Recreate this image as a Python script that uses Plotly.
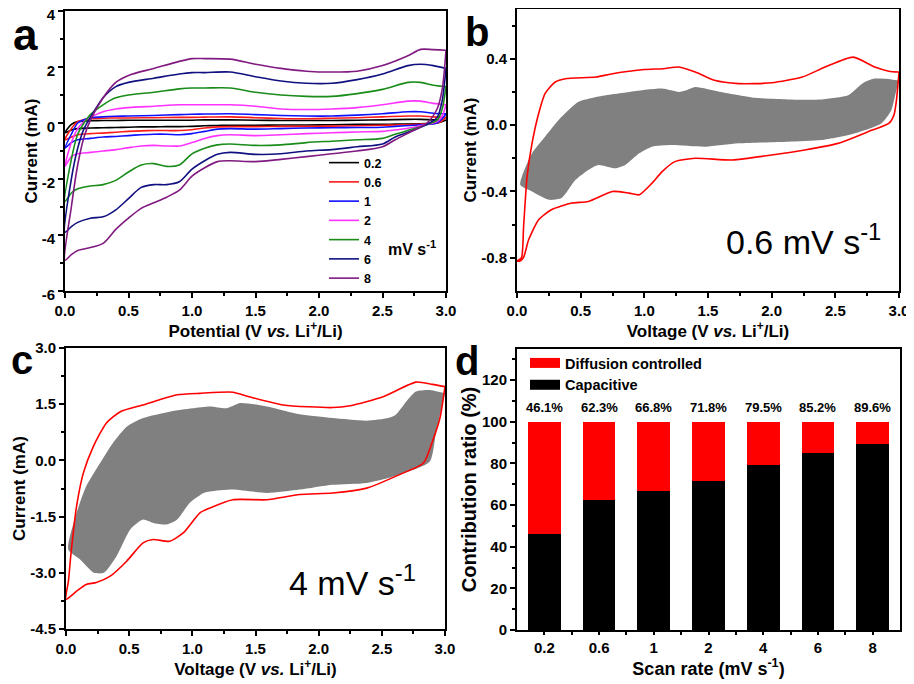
import plotly.graph_objects as go

FONT = "Liberation Sans"

# ---------------- Panel a : CV curves at different scan rates ----------------
a_rates = ["0.2", "0.6", "1", "2", "4", "6", "8"]
a_colors = ["#000000", "#ff1a1a", "#1010ff", "#ff33ff", "#1a8c1a", "#101080", "#801a80"]

a_up_v = [0, 0.05, 0.1, 0.15, 0.2, 0.3, 0.4, 0.5, 0.7, 0.9, 1.0, 1.1, 1.3, 1.5, 1.7, 1.9, 2.1, 2.3, 2.5, 2.7, 2.8, 2.9, 3.0]
a_dn_v = [3.0, 2.97, 2.93, 2.85, 2.75, 2.6, 2.5, 2.3, 2.1, 1.9, 1.7, 1.5, 1.3, 1.2, 1.1, 1.0, 0.9, 0.8, 0.7, 0.6, 0.5, 0.4, 0.3, 0.2, 0.1, 0.05, 0.0]

a_up = {
    "0.2": [-0.35, -0.05, 0.05, 0.07, 0.08, 0.09, 0.09, 0.1, 0.1, 0.1, 0.1, 0.11, 0.11, 0.1, 0.09, 0.09, 0.09, 0.1, 0.11, 0.13, 0.13, 0.11, 0.1],
    "0.6": [-0.6, -0.2, 0.05, 0.12, 0.15, 0.17, 0.18, 0.18, 0.19, 0.2, 0.2, 0.21, 0.22, 0.19, 0.16, 0.15, 0.17, 0.19, 0.22, 0.25, 0.25, 0.22, 0.2],
    "1": [-0.9, -0.4, 0.0, 0.12, 0.18, 0.22, 0.24, 0.25, 0.27, 0.3, 0.31, 0.32, 0.33, 0.3, 0.27, 0.25, 0.25, 0.28, 0.33, 0.4, 0.4, 0.35, 0.33],
    "2": [-1.55, -0.7, -0.2, 0.05, 0.2, 0.4, 0.5, 0.55, 0.6, 0.65, 0.65, 0.65, 0.65, 0.6, 0.5, 0.48, 0.5, 0.55, 0.65, 0.78, 0.78, 0.7, 0.65],
    "4": [-2.8, -1.3, -0.4, 0.0, 0.3, 0.65, 0.9, 1.0, 1.1, 1.22, 1.25, 1.25, 1.25, 1.1, 1.0, 0.95, 0.95, 1.05, 1.2, 1.45, 1.45, 1.35, 1.3],
    "6": [-3.9, -2.0, -0.9, -0.2, 0.2, 0.9, 1.3, 1.45, 1.6, 1.75, 1.8, 1.8, 1.82, 1.65, 1.5, 1.42, 1.42, 1.55, 1.75, 2.05, 2.1, 2.05, 1.95],
    "8": [-4.9, -3.0, -1.5, -0.5, 0.1, 0.9, 1.45, 1.7, 1.95, 2.2, 2.3, 2.3, 2.28, 2.1, 1.95, 1.85, 1.82, 1.85, 2.05, 2.4, 2.63, 2.62, 2.6],
}
a_dn = {
    "0.2": [0.1, 0.05, 0.0, -0.02, -0.03, -0.04, -0.05, -0.05, -0.06, -0.07, -0.07, -0.08, -0.08, -0.09, -0.1, -0.12, -0.13, -0.13, -0.14, -0.14, -0.15, -0.16, -0.17, -0.18, -0.2, -0.25, -0.35],
    "0.6": [0.2, 0.08, 0.0, -0.03, -0.05, -0.07, -0.08, -0.1, -0.11, -0.12, -0.12, -0.13, -0.13, -0.14, -0.18, -0.24, -0.27, -0.27, -0.27, -0.28, -0.3, -0.33, -0.36, -0.38, -0.42, -0.5, -0.6],
    "1": [0.33, 0.15, 0.0, -0.05, -0.08, -0.12, -0.15, -0.16, -0.17, -0.18, -0.2, -0.22, -0.2, -0.22, -0.3, -0.38, -0.42, -0.4, -0.4, -0.42, -0.45, -0.48, -0.5, -0.55, -0.6, -0.7, -0.9],
    "2": [0.65, 0.25, 0.05, -0.05, -0.15, -0.25, -0.3, -0.32, -0.35, -0.38, -0.42, -0.45, -0.42, -0.45, -0.55, -0.7, -0.82, -0.82, -0.8, -0.82, -0.88, -0.95, -1.0, -1.05, -1.1, -1.2, -1.55],
    "4": [1.3, 0.5, 0.1, -0.05, -0.2, -0.4, -0.55, -0.6, -0.65, -0.7, -0.78, -0.8, -0.75, -0.78, -0.9, -1.1, -1.5, -1.55, -1.45, -1.5, -1.75, -2.05, -2.2, -2.25, -2.35, -2.5, -2.8],
    "6": [1.95, 0.8, 0.2, -0.05, -0.25, -0.5, -0.75, -0.85, -0.95, -1.0, -1.1, -1.12, -1.05, -1.12, -1.35, -1.65, -2.1, -2.2, -2.2, -2.3, -2.7, -3.1, -3.35, -3.4, -3.55, -3.7, -3.9],
    "8": [2.6, 1.2, 0.5, 0.0, -0.25, -0.6, -0.85, -1.0, -1.1, -1.2, -1.3, -1.38, -1.35, -1.38, -1.6, -1.9, -2.4, -2.65, -2.85, -3.05, -3.4, -3.8, -4.3, -4.45, -4.55, -4.7, -4.9],
}

# ---------------- Panel b : 0.6 mV/s, total vs capacitive ----------------
b_up_v = [0.0, 0.035, 0.052, 0.079, 0.118, 0.17, 0.22, 0.3, 0.38, 0.62, 0.75, 1.0, 1.15, 1.27, 1.4, 1.55, 1.74, 2.0, 2.24, 2.42, 2.64, 2.81, 2.92, 3.0]
b_up_i = [-0.82, -0.8, -0.61, -0.31, -0.11, 0.07, 0.19, 0.26, 0.28, 0.29, 0.31, 0.335, 0.34, 0.35, 0.32, 0.27, 0.25, 0.255, 0.29, 0.35, 0.41, 0.35, 0.325, 0.32]
b_dn_v = [3.0, 2.98, 2.96, 2.92, 2.79, 2.52, 2.26, 2.0, 1.69, 1.4, 1.24, 1.14, 1.06, 0.96, 0.88, 0.75, 0.56, 0.43, 0.27, 0.17, 0.092, 0.05, 0.02, 0.0]
b_dn_i = [0.32, 0.15, 0.06, 0.01, -0.03, -0.11, -0.15, -0.18, -0.21, -0.2, -0.22, -0.28, -0.35, -0.42, -0.41, -0.4, -0.46, -0.47, -0.51, -0.57, -0.69, -0.8, -0.82, -0.82]
b_cap_up_v = [0.026, 0.118, 0.22, 0.35, 0.48, 0.62, 0.88, 1.14, 1.27, 1.33, 1.4, 1.6, 1.87, 2.13, 2.39, 2.6, 2.68, 2.73, 2.8, 2.89, 3.0]
b_cap_up_i = [-0.36, -0.17, -0.07, 0.05, 0.14, 0.17, 0.2, 0.22, 0.2, 0.21, 0.23, 0.2, 0.165, 0.155, 0.155, 0.18, 0.23, 0.26, 0.28, 0.28, 0.27]
b_cap_dn_v = [3.0, 2.97, 2.94, 2.86, 2.65, 2.39, 2.13, 1.74, 1.48, 1.21, 1.06, 0.96, 0.85, 0.77, 0.64, 0.56, 0.46, 0.35, 0.25, 0.118, 0.026]
b_cap_dn_i = [0.27, 0.18, 0.09, 0.01, -0.05, -0.09, -0.1, -0.11, -0.13, -0.12, -0.13, -0.17, -0.24, -0.26, -0.24, -0.27, -0.33, -0.44, -0.45, -0.4, -0.36]

# ---------------- Panel c : 4 mV/s, total vs capacitive ----------------
c_up_v = [0.0, 0.02, 0.04, 0.084, 0.137, 0.216, 0.32, 0.43, 0.61, 0.74, 0.88, 1.06, 1.32, 1.45, 1.72, 2.11, 2.25, 2.51, 2.77, 2.9, 3.0]
c_up_i = [-3.71, -3.2, -2.47, -1.22, -0.34, 0.37, 1.0, 1.3, 1.48, 1.62, 1.75, 1.79, 1.82, 1.7, 1.48, 1.41, 1.46, 1.7, 2.09, 2.03, 1.97]
c_dn_v = [3.0, 2.96, 2.9, 2.83, 2.64, 2.38, 2.11, 1.85, 1.59, 1.32, 1.14, 1.06, 0.93, 0.82, 0.69, 0.61, 0.48, 0.35, 0.24, 0.16, 0.084, 0.0]
c_dn_i = [1.97, 1.13, 0.5, -0.07, -0.38, -0.74, -0.87, -0.91, -1.05, -1.05, -1.27, -1.4, -1.93, -2.16, -2.11, -2.2, -2.69, -3.09, -3.26, -3.31, -3.49, -3.71]
c_cap_up_v = [0.018, 0.084, 0.16, 0.27, 0.37, 0.48, 0.61, 0.82, 1.0, 1.14, 1.27, 1.38, 1.59, 1.85, 2.11, 2.38, 2.55, 2.61, 2.7, 2.77, 2.88, 3.0]
c_cap_up_i = [-2.38, -1.4, -0.69, -0.07, 0.46, 0.9, 1.13, 1.3, 1.39, 1.44, 1.39, 1.53, 1.44, 1.23, 1.13, 1.06, 1.13, 1.22, 1.6, 1.84, 1.88, 1.79]
c_cap_dn_v = [3.0, 2.93, 2.88, 2.64, 2.38, 2.11, 1.85, 1.59, 1.32, 1.14, 1.09, 0.98, 0.88, 0.8, 0.69, 0.61, 0.51, 0.4, 0.3, 0.22, 0.11, 0.018]
c_cap_dn_i = [1.79, 0.77, -0.03, -0.38, -0.6, -0.65, -0.78, -0.87, -0.78, -0.83, -0.87, -1.13, -1.58, -1.71, -1.67, -1.58, -1.84, -2.56, -3.0, -3.0, -2.64, -2.38]

# ---------------- Panel d : contribution ratios ----------------
d_rates = ["0.2", "0.6", "1", "2", "4", "6", "8"]
d_capacitive = [46.1, 62.3, 66.8, 71.8, 79.5, 85.2, 89.6]
d_diffusion = [round(100 - c, 1) for c in d_capacitive]

fig = go.Figure()

# panel a
for r, col in zip(a_rates, a_colors):
    fig.add_trace(go.Scatter(
        x=a_up_v + a_dn_v, y=a_up[r] + a_dn[r], mode="lines",
        line=dict(color=col, width=1.6, shape="spline", smoothing=0.8),
        name=r, legend="legend", xaxis="x", yaxis="y"))

# panel b
fig.add_trace(go.Scatter(
    x=b_cap_up_v + b_cap_dn_v, y=b_cap_up_i + b_cap_dn_i, mode="lines", fill="toself",
    fillcolor="#808080", line=dict(width=0, color="#808080", shape="spline", smoothing=0.6),
    showlegend=False, xaxis="x2", yaxis="y2"))
fig.add_trace(go.Scatter(
    x=b_up_v + b_dn_v, y=b_up_i + b_dn_i, mode="lines",
    line=dict(color="#ff0000", width=1.6, shape="spline", smoothing=0.6),
    showlegend=False, xaxis="x2", yaxis="y2"))

# panel c
fig.add_trace(go.Scatter(
    x=c_cap_up_v + c_cap_dn_v, y=c_cap_up_i + c_cap_dn_i, mode="lines", fill="toself",
    fillcolor="#808080", line=dict(width=0, color="#808080", shape="spline", smoothing=0.6),
    showlegend=False, xaxis="x3", yaxis="y3"))
fig.add_trace(go.Scatter(
    x=c_up_v + c_dn_v, y=c_up_i + c_dn_i, mode="lines",
    line=dict(color="#ff0000", width=1.6, shape="spline", smoothing=0.6),
    showlegend=False, xaxis="x3", yaxis="y3"))

# panel d
idx = list(range(len(d_rates)))
totals = [c + d for c, d in zip(d_capacitive, d_diffusion)]
fig.add_trace(go.Bar(x=idx, y=d_capacitive, marker=dict(color="#000000", line=dict(width=0)),
                     width=0.6, showlegend=False, xaxis="x4", yaxis="y4"))
fig.add_trace(go.Bar(x=idx, y=d_diffusion, marker=dict(color="#ff0000", line=dict(width=0)),
                     width=0.6, showlegend=False, xaxis="x4", yaxis="y4"))
# legend keys for panel d
fig.add_trace(go.Scatter(x=[None], y=[None], mode="lines", name="Diffusion controlled",
                         line=dict(color="#ff0000", width=10), legend="legend2",
                         xaxis="x4", yaxis="y4"))
fig.add_trace(go.Scatter(x=[None], y=[None], mode="lines", name="Capacitive",
                         line=dict(color="#000000", width=10), legend="legend2",
                         xaxis="x4", yaxis="y4"))


def axis(domain, anchor, title, tickvals, ticktext, minorvals, rng, title_size=17,
         standoff=0, ticklen=5, **extra):
    d = dict(
        domain=domain, anchor=anchor, range=rng, automargin=False,
        showline=True, linecolor="black", linewidth=2, mirror=True,
        ticks="outside", ticklen=ticklen, tickwidth=1.5, tickcolor="black",
        tickmode="array", tickvals=tickvals, ticktext=ticktext,
        minor=dict(tickmode="array", tickvals=minorvals, ticks="outside", ticklen=3,
                   tickwidth=1.5, tickcolor="black", showgrid=False),
        showgrid=False, zeroline=False, ticklabeloverflow="allow",
        tickfont=dict(family=FONT, size=15, color="black", weight="bold"),
        title=dict(text=title, font=dict(family=FONT, size=title_size, color="black", weight="bold"),
                   standoff=standoff),
    )
    d.update(extra)
    return d


# page has an 8px body margin: figure placed so that reference pixel positions line up
OFF = 8
W, H = 914 - OFF, 684 - OFF
def dx(p0, p1):
    return [(p0 - OFF) / W, (p1 - OFF) / W]
def dy(top, bottom):
    return [1 - (bottom - OFF) / H, 1 - (top - OFF) / H]
def px(x):
    return (x - OFF) / W
def py(y):
    return 1 - (y - OFF) / H


xv = [0, 0.5, 1.0, 1.5, 2.0, 2.5, 3.0]
xt = [f"{v:.1f}" for v in xv]
xminor = [0.25, 0.75, 1.25, 1.75, 2.25, 2.75]

ya = [4, 2, 0, -2, -4, -6]
yb = [0.4, 0.0, -0.4, -0.8]
yc = [3.0, 1.5, 0.0, -1.5, -3.0, -4.5]
yd = [0, 20, 40, 60, 80, 100, 120]

volt_title = "Voltage (V <i>vs.</i> Li<sup>+</sup>/Li)"

fig.update_layout(
    width=W, height=H, margin=dict(l=0, r=0, t=0, b=0, autoexpand=False),
    paper_bgcolor="white", plot_bgcolor="white",
    font=dict(family=FONT, color="black"),
    barmode="stack",
    xaxis=axis(dx(65, 446), "y", "Potential (V <i>vs.</i> Li<sup>+</sup>/Li)", xv, xt, xminor, [0, 3]),
    yaxis=axis(dy(11, 291), "x", "Current (mA)", ya, [str(v) for v in ya], [3, 1, -1, -3, -5], [-6, 4],
               ticklabelshift=4),
    xaxis2=axis(dx(517, 899), "y2", volt_title, xv, xt, xminor, [0, 3]),
    yaxis2=axis(dy(9, 291), "x2", "Current (mA)", yb, [f"{v:.1f}" for v in yb],
                [0.6, 0.2, -0.2, -0.6], [-1.0, 0.7]),
    xaxis3=axis(dx(66, 445), "y3", volt_title, xv, xt, xminor, [0, 3]),
    yaxis3=axis(dy(348, 629), "x3", "Current (mA)", yc, [f"{v:.1f}" for v in yc],
                [2.25, 0.75, -0.75, -2.25, -3.75], [-4.5, 3.0]),
    xaxis4=axis(dx(517, 900), "y4", "Scan rate (mV s<sup>-1</sup>)", idx, d_rates,
                [i + 0.5 for i in idx[:-1]], [-0.5, len(d_rates) - 0.5], title_size=18, ticklen=3),
    yaxis4=axis(dy(349, 630), "x4", "Contribution ratio (%)", yd, [str(v) for v in yd],
                [10, 30, 50, 70, 90, 110, 130], [0, 135], title_size=20),
    legend=dict(x=px(324), y=py(148), xanchor="left", yanchor="top", traceorder="normal",
                bgcolor="rgba(0,0,0,0)", font=dict(family=FONT, size=12.5, color="black", weight="bold"),
                tracegroupgap=0, itemwidth=30),
    legend2=dict(x=px(525), y=py(347), xanchor="left", yanchor="top", traceorder="normal",
                 bgcolor="rgba(0,0,0,0)", font=dict(family=FONT, size=14.5, color="black", weight="bold"),
                 tracegroupgap=0, itemwidth=30),
)

ann = []
def letter(t, x, y, size, yanchor="middle"):
    ann.append(dict(text=t, x=px(x), y=py(y), xref="paper", yref="paper", showarrow=False,
                    xanchor="center", yanchor=yanchor,
                    font=dict(family=FONT, size=size, color="black", weight="bold")))
letter("a", 25, OFF, 44, "top")
letter("b", 477, OFF, 40, "top")
letter("c", 22, 360, 40)
letter("d", 467, 361, 40)

def label(t, x, y, size, weight="normal"):
    ann.append(dict(text=t, x=px(x), y=py(y), xref="paper", yref="paper", showarrow=False,
                    xanchor="center", yanchor="middle",
                    font=dict(family=FONT, size=size, color="black", weight=weight)))
label("mV s<sup>-1</sup>", 412, 248, 16, "bold")
label("0.6 mV s<sup>-1</sup>", 803, 240, 34)
label("4 mV s<sup>-1</sup>", 352, 580, 34)

# percentage labels above the stacked bars
for i, c, t in zip(idx, d_capacitive, totals):
    ann.append(dict(text=f"{c}%", x=i, y=t, xref="x4", yref="y4", showarrow=False,
                    xanchor="center", yanchor="middle", yshift=14,
                    font=dict(family=FONT, size=13, color="black", weight="bold")))
fig.update_layout(annotations=ann)

fig.write_html("out.html")
